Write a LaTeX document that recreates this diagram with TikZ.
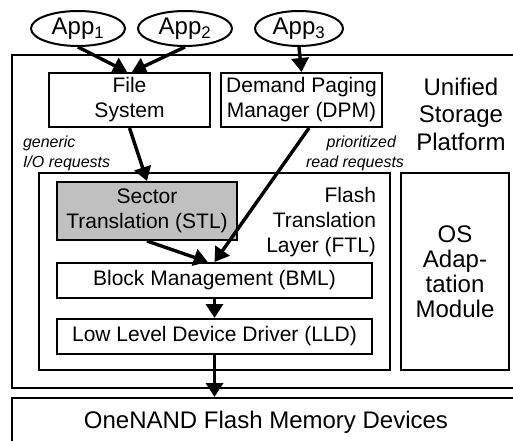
\documentclass[tikz,border=0pt]{standalone}
\usepackage{fontspec}
\setmainfont{Liberation Sans}
\usetikzlibrary{positioning,shapes.geometric,arrows.meta}
\definecolor{stlgray}{RGB}{192,192,192}

\begin{document}
\begin{tikzpicture}[x=1pt, y=-1pt, line width=2pt,
    box/.style={rectangle, draw, inner sep=0pt, align=center, font=\fontsize{21}{25}\selectfont},
    bigbox/.style={box, font=\fontsize{24}{25}\selectfont},
    app/.style={ellipse, draw, inner sep=0pt, minimum width=94pt, minimum height=35pt, font=\fontsize{24}{26}\selectfont},
    label/.style={inner sep=0pt, align=center, font=\fontsize{24}{27.5}\selectfont},
    note/.style={inner sep=0pt, font=\fontsize{16}{20}\selectfont\itshape},
    flow/.style={-{Triangle[length=14pt, width=17pt]}, line width=3.4pt}]
    \useasboundingbox (0,0) rectangle (513,440);

    % platform and devices
    \node[box, minimum width=508pt, minimum height=333pt](USP) at (266,221.5){};
    \node[label](USPtxt) at (461,114){Unified\\Storage\\Platform};
    \node[bigbox, minimum width=508pt, minimum height=48pt](ONAND) at (266,422){OneNAND Flash Memory Devices};

    % applications
    \node[app](App1) at (78,28.5){App\textsubscript{1}};
    \node[app](App2) at (185,28.5){App\textsubscript{2}};
    \node[app, minimum width=88pt](App3) at (299,28.5){App\textsubscript{3}};

    % upper layer
    \node[box, minimum width=161pt, minimum height=54pt](FS) at (129.5,100){File\\System};
    \node[box, minimum width=161pt, minimum height=54pt](DPM)[right=9pt of FS]{Demand Paging\\Manager (DPM)};
    \node[note, align=left, anchor=west](gen) at (22,153){generic\\I/O requests};
    \node[note, align=right, anchor=east](prio) at (405,153){prioritized\hspace*{8pt}\\read requests};

    % FTL
    \node[box, minimum width=351pt, minimum height=197pt](FTL) at (214.5,271.5){};
    \node[box, draw=none, align=right, anchor=east](FTLtxt) at (377,222){Flash\\Translation\\Layer (FTL)};
    \node[box, fill=stlgray, minimum width=180pt, minimum height=58pt](STL) at (147,211){Sector\\Translation (STL)};
    \node[box, minimum width=315pt, minimum height=35pt](BML) at (214.5,280.5){Block Management (BML)};
    \node[box, minimum width=315pt, minimum height=35pt](LLD)[below=19pt of BML]{Low Level Device Driver (LLD)};
    \node[bigbox, minimum width=108pt, minimum height=197pt](OS)[right=9pt of FTL]{OS\\Adap-\\tation\\Module};

\foreach \s/\t in {App1.south/FS.95, App2.south/FS.85, App3.south/DPM.north, FS.south/STL.north, STL.south/BML.110, DPM.-75/BML.north, BML.south/LLD.north}{
    \draw[flow] (\s) -- (\t);}
\draw[flow] (LLD.south) -- (LLD.south |- ONAND.north);
\end{tikzpicture}
\end{document}
